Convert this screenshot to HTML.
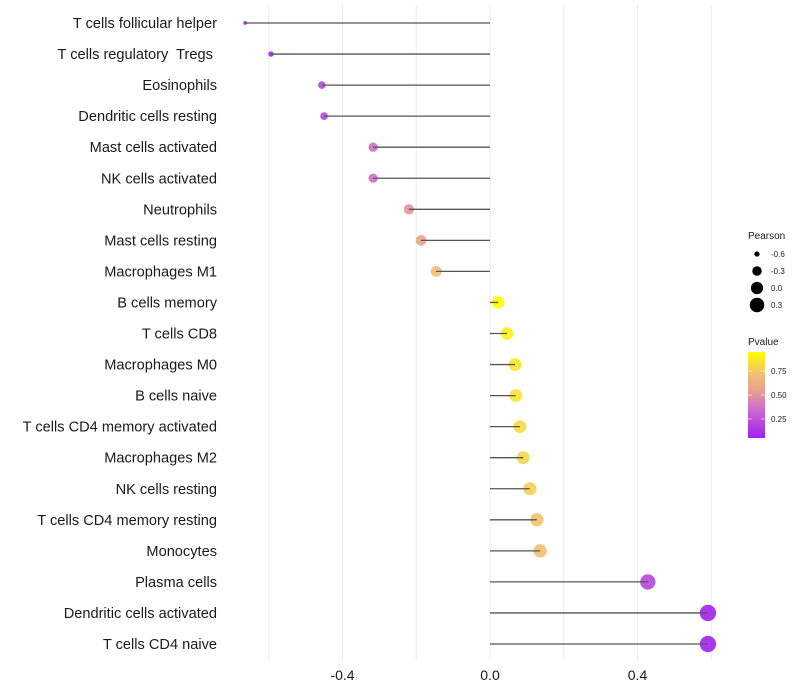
<!DOCTYPE html>
<html><head><meta charset="utf-8"><style>
body{margin:0;background:#fff;}
svg{display:block;font-family:"Liberation Sans",sans-serif;}
</style></head><body>
<svg id="chart" width="800" height="700"></svg>
<script>
const categories=["T cells follicular helper","T cells regulatory  Tregs ","Eosinophils","Dendritic cells resting","Mast cells activated","NK cells activated","Neutrophils","Mast cells resting","Macrophages M1","B cells memory","T cells CD8","Macrophages M0","B cells naive","T cells CD4 memory activated","Macrophages M2","NK cells resting","T cells CD4 memory resting","Monocytes","Plasma cells","Dendritic cells activated","T cells CD4 naive"];
const pearson=[-0.664,-0.594,-0.456,-0.45,-0.317,-0.317,-0.22,-0.187,-0.146,0.022,0.046,0.068,0.07,0.081,0.09,0.108,0.127,0.136,0.428,0.591,0.591];
const pvalue=[0.05,0.07,0.2,0.2,0.36,0.36,0.5,0.57,0.7,0.97,0.9,0.86,0.85,0.82,0.8,0.78,0.74,0.72,0.2,0.06,0.06];
const xTicks=[-0.4,0.0,0.4];
const xTickLabels=["-0.4","0.0","0.4"];
const gridVals=[-0.6,-0.4,-0.2,0,0.2,0.4,0.6];
const sizeLegend=[-0.6,-0.3,0.0,0.3];
const colorTicks=[0.25,0.5,0.75];

const svg=document.getElementById('chart');
const NS='http://www.w3.org/2000/svg';
function mk(t,a,p){const e=document.createElementNS(NS,t);for(const k in a)e.setAttribute(k,a[k]);(p||svg).appendChild(e);return e;}
const xs=v=>490+v*368.75;
const ys=i=>23+i*31.05;
const rs=v=>Math.sqrt(Math.max(1,2.25+47*(v+0.664)))+0.35;
const stops=[[0,[160,32,240]],[0.35,[208,112,200]],[0.55,[232,160,144]],[0.75,[242,192,112]],[1,[255,255,0]]];
function col(p){const t=Math.max(0,Math.min(1,(p-0.05)/0.9));
 for(let k=1;k<stops.length;k++){if(t<=stops[k][0]){const a=stops[k-1],b=stops[k];const f=(t-a[0])/(b[0]-a[0]);
  const c=a[1].map((x,j)=>Math.round(x+(b[1][j]-x)*f));return `rgb(${c[0]},${c[1]},${c[2]})`;}}
 return 'rgb(255,255,0)';}

gridVals.forEach(v=>{const l=mk('line',{x1:xs(v),x2:xs(v),y1:5,y2:660,stroke:'#ebebeb','stroke-width':1});
});
xTicks.forEach((v,i)=>{const t=mk('text',{x:xs(v),y:680,'text-anchor':'middle','font-size':14,fill:'#1a1a1a'});t.textContent=xTickLabels[i];
});
categories.forEach((c,i)=>{
 const t=mk('text',{x:217,y:ys(i)+5,'text-anchor':'end','font-size':14.6,fill:'#1a1a1a','xml:space':'preserve'});t.textContent=c;
 t.setAttribute('style','white-space:pre');
 
 const pt=mk('circle',{cx:xs(pearson[i]),cy:ys(i),r:rs(pearson[i]),fill:col(pvalue[i]),'fill-opacity':0.9});
 
 const l=mk('line',{x1:xs(0),x2:xs(pearson[i]),y1:ys(i),y2:ys(i),stroke:'#555','stroke-width':1.3});
 
});
const lt=mk('text',{x:748,y:239,'font-size':10,fill:'#1a1a1a'});lt.textContent='Pearson';

sizeLegend.forEach((v,i)=>{const y=254+i*17;
 const c=mk('circle',{cx:757,cy:y,r:rs(v),fill:'#000'});
 const t=mk('text',{x:771,y:y+3,'font-size':8,fill:'#1a1a1a'});t.textContent=v.toFixed(1);
 });
const ct=mk('text',{x:748,y:345,'font-size':10,fill:'#1a1a1a'});ct.textContent='Pvalue';

const defs=mk('defs',{});const gr=mk('linearGradient',{id:'g',x1:0,y1:1,x2:0,y2:0},defs);
stops.forEach(s=>mk('stop',{offset:s[0],'stop-color':`rgb(${s[1].join(',')})`},gr));
const bar=mk('rect',{x:748,y:352,width:17,height:86,fill:'url(#g)'});
const cy=p=>438-(p-0.05)/0.9*86;
colorTicks.forEach(p=>{mk('line',{x1:748,x2:752,y1:cy(p),y2:cy(p),stroke:'#fff','stroke-opacity':0.6});mk('line',{x1:761,x2:765,y1:cy(p),y2:cy(p),stroke:'#fff','stroke-opacity':0.6});
 const t=mk('text',{x:771,y:cy(p)+3,'font-size':8,fill:'#1a1a1a'});t.textContent=p.toFixed(2);
 });
</script>
</body></html>
